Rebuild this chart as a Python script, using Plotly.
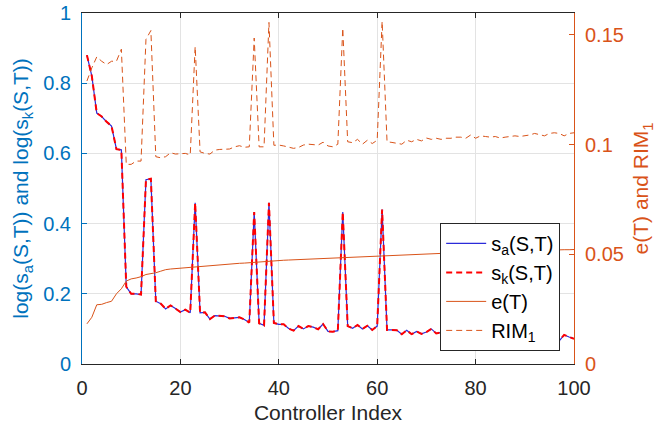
import plotly.graph_objects as go

controller_index = list(range(1, 101))

s_a = [0.88, 0.82, 0.715, 0.705, 0.69, 0.678, 0.612, 0.61, 0.22, 0.20,
       0.20, 0.198, 0.525, 0.528, 0.179, 0.172, 0.157, 0.167, 0.158, 0.148,
       0.155, 0.146, 0.459, 0.146, 0.147, 0.128, 0.138, 0.136, 0.136, 0.130,
       0.131, 0.133, 0.127, 0.118, 0.433, 0.116, 0.110, 0.459, 0.117, 0.113,
       0.113, 0.101, 0.095, 0.108, 0.100, 0.108, 0.105, 0.099, 0.114, 0.093,
       0.092, 0.095, 0.433, 0.108, 0.102, 0.111, 0.100, 0.109, 0.097, 0.108,
       0.440, 0.097, 0.097, 0.096, 0.085, 0.096, 0.085, 0.093, 0.086, 0.091,
       0.100, 0.087, 0.090, 0.085, 0.088, 0.082, 0.090, 0.086, 0.080, 0.088,
       0.084, 0.079, 0.087, 0.083, 0.078, 0.085, 0.080, 0.076, 0.084, 0.079,
       0.075, 0.082, 0.078, 0.074, 0.080, 0.077, 0.066, 0.083, 0.077, 0.072]

s_k = [0.88, 0.82, 0.715, 0.705, 0.69, 0.678, 0.612, 0.61, 0.22, 0.20,
       0.20, 0.198, 0.525, 0.528, 0.179, 0.172, 0.157, 0.167, 0.158, 0.148,
       0.155, 0.146, 0.459, 0.146, 0.147, 0.128, 0.138, 0.136, 0.136, 0.130,
       0.131, 0.133, 0.127, 0.118, 0.433, 0.116, 0.110, 0.459, 0.117, 0.113,
       0.113, 0.101, 0.095, 0.108, 0.100, 0.108, 0.105, 0.099, 0.114, 0.093,
       0.092, 0.095, 0.433, 0.108, 0.102, 0.111, 0.100, 0.109, 0.097, 0.108,
       0.440, 0.097, 0.097, 0.096, 0.085, 0.096, 0.085, 0.093, 0.086, 0.091,
       0.100, 0.087, 0.090, 0.085, 0.088, 0.082, 0.090, 0.086, 0.080, 0.088,
       0.084, 0.079, 0.087, 0.083, 0.078, 0.085, 0.080, 0.076, 0.084, 0.079,
       0.075, 0.082, 0.078, 0.074, 0.080, 0.077, 0.066, 0.083, 0.077, 0.072]

e_T = [0.0183, 0.0213, 0.0270, 0.0272, 0.0280, 0.0286, 0.0320, 0.0343, 0.0378, 0.0388,
       0.0392, 0.0398, 0.0408, 0.0411, 0.0416, 0.0423, 0.0430, 0.0433, 0.0435, 0.0437,
       0.0439, 0.0441, 0.0443, 0.0445, 0.0447, 0.0450, 0.0452, 0.0454, 0.0455, 0.0456,
       0.0458, 0.0459, 0.0460, 0.0462, 0.0464, 0.0465, 0.0466, 0.0468, 0.0470, 0.0471,
       0.0473, 0.0474, 0.0475, 0.0476, 0.0477, 0.0478, 0.0479, 0.0480, 0.0481, 0.0482,
       0.0483, 0.0484, 0.0485, 0.0486, 0.0487, 0.0488, 0.0489, 0.0489, 0.0490, 0.0491,
       0.0492, 0.0493, 0.0494, 0.0495, 0.0496, 0.0497, 0.0498, 0.0499, 0.0500, 0.0502,
       0.0504, 0.0506, 0.0507, 0.0507, 0.0508, 0.0508, 0.0509, 0.0509, 0.0510, 0.0510,
       0.0511, 0.0511, 0.0512, 0.0512, 0.0513, 0.0513, 0.0514, 0.0514, 0.0515, 0.0515,
       0.0516, 0.0516, 0.0517, 0.0518, 0.0518, 0.0519, 0.0520, 0.0521, 0.0521, 0.0522]

rim_1 = [0.129, 0.135, 0.140, 0.138, 0.1365, 0.138, 0.138, 0.1435, 0.091, 0.091,
         0.0925, 0.0925, 0.148, 0.152, 0.0945, 0.094, 0.0945, 0.0963, 0.0957, 0.096,
         0.096, 0.0953, 0.1447, 0.0967, 0.096, 0.0957, 0.0975, 0.0978, 0.0978, 0.098,
         0.099, 0.0995, 0.0988, 0.099, 0.1486, 0.099, 0.099, 0.1557, 0.0997, 0.0998,
         0.0994, 0.099, 0.0983, 0.0987, 0.0998, 0.1002, 0.100, 0.0998, 0.1011, 0.0994,
         0.099, 0.1002, 0.1531, 0.1013, 0.1009, 0.1024, 0.1002, 0.102, 0.1005, 0.102,
         0.1562, 0.1013, 0.101, 0.1005, 0.1002, 0.102, 0.1013, 0.1024, 0.1017, 0.103,
         0.1024, 0.1029, 0.1024, 0.1029, 0.1029, 0.1034, 0.1034, 0.1029, 0.1044, 0.1029,
         0.104, 0.1037, 0.1034, 0.1037, 0.103, 0.1034, 0.1037, 0.104, 0.1037, 0.104,
         0.1044, 0.1051, 0.1044, 0.104, 0.1051, 0.1054, 0.1051, 0.104, 0.1051, 0.1054]

x_ticks = [0, 20, 40, 60, 80, 100]
left_ticks = [0, 0.2, 0.4, 0.6, 0.8, 1]
left_tick_text = ["0", "0.2", "0.4", "0.6", "0.8", "1"]
right_ticks = [0, 0.05, 0.1, 0.15]
right_tick_text = ["0", "0.05", "0.1", "0.15"]

BLUE_AX = "#0072BD"
ORANGE = "#D95319"
DARK = "#262626"
FONT = "Liberation Sans, Arial, sans-serif"

fig = go.Figure()
fig.add_trace(go.Scatter(x=controller_index, y=s_a, mode="lines",
                         name="s<sub>a</sub>(S,T)",
                         line=dict(color="#2B2BD9", width=1.2)))
fig.add_trace(go.Scatter(x=controller_index, y=s_k, mode="lines",
                         name="s<sub>k</sub>(S,T)",
                         line=dict(color="#FF0000", width=2, dash="6px,4px")))
fig.add_trace(go.Scatter(x=controller_index, y=e_T, mode="lines",
                         name="e(T)", yaxis="y2",
                         line=dict(color=ORANGE, width=1)))
fig.add_trace(go.Scatter(x=controller_index, y=rim_1, mode="lines",
                         name="RIM<sub>1</sub>", yaxis="y2",
                         line=dict(color=ORANGE, width=1, dash="6px,4px")))

fig.update_layout(
    width=660, height=428,
    margin=dict(l=82, r=86, t=13, b=64, autoexpand=False),
    paper_bgcolor="white", plot_bgcolor="white",
    font=dict(family=FONT, size=20, color=DARK),
    showlegend=True,
    legend=dict(x=0.728, y=0.402, xanchor="left", yanchor="top",
                bgcolor="white", bordercolor=DARK, borderwidth=1,
                font=dict(size=20, color="black"),
                tracegroupgap=0, itemwidth=40),
    xaxis=dict(range=[0, 100], tickvals=x_ticks, automargin=False,
               ticks="inside", ticklen=5, tickcolor=DARK,
               showline=True, linecolor=DARK, linewidth=1, mirror="ticks",
               showgrid=True, gridcolor="#E3E3E3", gridwidth=1,
               zeroline=False, tickfont=dict(size=20, color=DARK),
               ticklabelstandoff=6, ticklabeloverflow="allow",
               title=dict(text="Controller Index", font=dict(size=21, color=DARK),
                          standoff=7)),
    yaxis=dict(range=[0, 1], tickvals=left_ticks, ticktext=left_tick_text,
               automargin=False,
               ticks="inside", ticklen=5, tickcolor=BLUE_AX,
               showline=True, linecolor=BLUE_AX, linewidth=1,
               showgrid=True, gridcolor="#E3E3E3", gridwidth=1,
               zeroline=False, tickfont=dict(size=20, color=BLUE_AX),
               ticklabelstandoff=6, ticklabeloverflow="allow",
               title=dict(text="log(s<sub>a</sub>(S,T)) and log(s<sub>k</sub>(S,T))",
                          font=dict(size=21, color=BLUE_AX), standoff=8)),
    yaxis2=dict(range=[0, 0.16], tickvals=right_ticks, ticktext=right_tick_text,
                overlaying="y", side="right", automargin=False,
                ticks="inside", ticklen=5, tickcolor=ORANGE,
                showline=True, linecolor=ORANGE, linewidth=1,
                showgrid=False, zeroline=False,
                tickfont=dict(size=20, color=ORANGE),
                ticklabelstandoff=6, ticklabeloverflow="allow",
                title=dict(text="e(T) and RIM<sub>1</sub>",
                           font=dict(size=21, color=ORANGE), standoff=10)),
)

fig.write_html("out.html", config={"displayModeBar": False},
               post_script="document.body.style.margin='0';document.body.style.overflow='hidden';")
